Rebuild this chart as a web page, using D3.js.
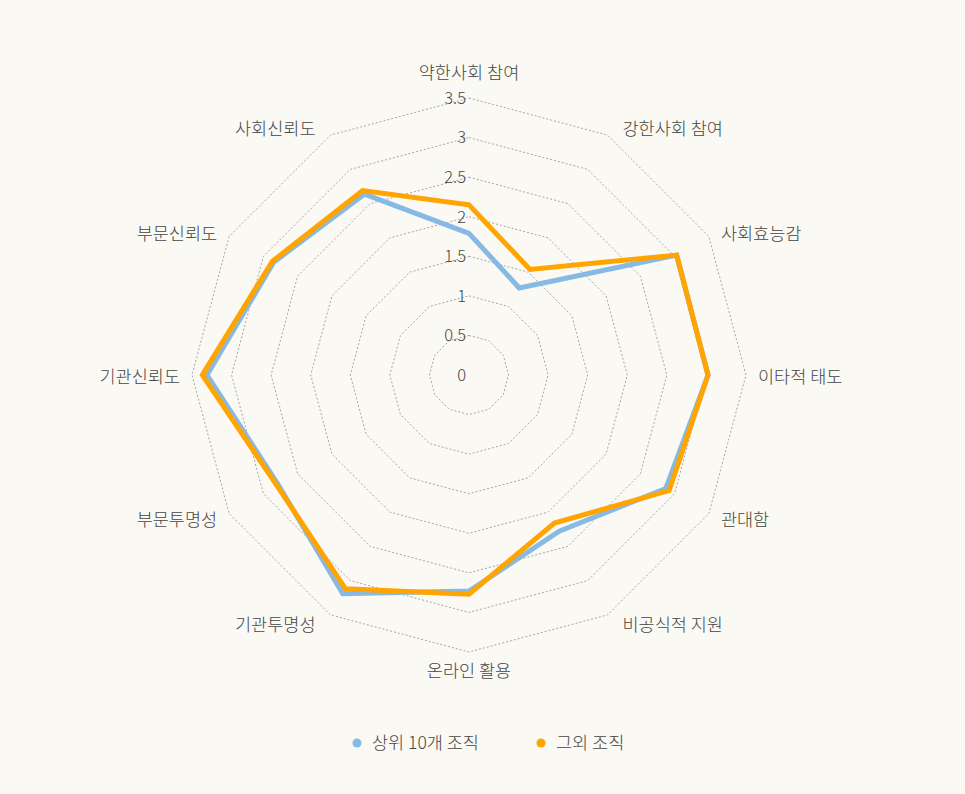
<!DOCTYPE html>
<html>
<head>
<meta charset="utf-8">
<script src="https://cdn.jsdelivr.net/npm/d3@7"></script>
<style>
  html, body { margin: 0; padding: 0; background: #faf9f3; }
  svg text { font-family: "Noto Sans CJK KR", "Noto Sans", sans-serif; fill: #454545; font-weight: 300; }
</style>
</head>
<body>
<div id="chart"></div>
<script>
// axes, clockwise from the top
const axes = ["약한사회 참여", "강한사회 참여", "사회효능감", "이타적 태도", "관대함", "비공식적 지원",
  "온라인 활용", "기관투명성", "부문투명성", "기관신뢰도", "부문신뢰도", "사회신뢰도"];
const seriesNames = ["상위 10개 조직", "그외 조직"];
const top10 = [1.79, 1.27, 3.03, 3.02, 2.87, 2.28, 2.73, 3.19, 2.78, 3.31, 2.85, 2.64];
const others = [2.15, 1.54, 3.03, 3.02, 2.92, 2.16, 2.77, 3.12, 2.8, 3.37, 2.87, 2.69];
const ticks = [0, 0.5, 1, 1.5, 2, 2.5, 3, 3.5];
const colors = ["#86b9e4", "#ffa400"];

const chart = { width: 965, height: 794, cx: 469, cy: 375, radius: 277 };

chart.svg = d3.select("#chart")
    .append("svg")
    .attr("width", chart.width)
    .attr("height", chart.height);

chart.svg.append("rect")
    .attr("width", chart.width)
    .attr("height", chart.height)
    .attr("fill", "#faf9f3");

const g = chart.svg.append("g")
    .attr("transform", `translate(${chart.cx}, ${chart.cy})`);

const r = d3.scaleLinear().domain([0, 3.5]).range([0, chart.radius]);
const angle = d3.scalePoint().domain(d3.range(axes.length)).range([0, 2 * Math.PI * (axes.length - 1) / axes.length]);

const px = (i, v) => r(v) * Math.sin(angle(i));
const py = (i, v) => -r(v) * Math.cos(angle(i));

// dotted grid rings
const ring = d3.line().curve(d3.curveLinearClosed);
g.append("g").selectAll("path")
    .data(ticks.slice(1))
    .join("path")
    .attr("d", t => ring(axes.map((a, i) => [px(i, t), py(i, t)])))
    .attr("fill", "none")
    .attr("stroke", "#a6a6a6")
    .attr("stroke-width", 1)
    .attr("stroke-dasharray", "2,2");

// tick labels on the top axis
g.append("g").selectAll("text")
    .data(ticks)
    .join("text")
    .attr("x", -3)
    .attr("y", t => -r(t))
    .attr("dy", "0.35em")
    .attr("text-anchor", "end")
    .style("font-size", "16.5px")
    .text(t => t);

// axis labels
g.append("g").selectAll("text")
    .data(axes)
    .join("text")
    .attr("x", (a, i) => {
        const s = Math.sin(angle(i));
        const vx = px(i, 3.5);
        if (Math.abs(s) < 0.01) return vx;
        const off = Math.abs(s) < 0.6 ? 15 : 12;
        return vx + (s > 0 ? off : -off);
    })
    .attr("y", (a, i) => {
        const c = Math.cos(angle(i));
        const vy = py(i, 3.5);
        if (c > 0.99) return vy - 25;
        if (c < -0.99) return vy + 19;
        return vy - c * 9 + 2;
    })
    .attr("dy", "0.35em")
    .attr("text-anchor", (a, i) => {
        const s = Math.sin(angle(i));
        return Math.abs(s) < 0.01 ? "middle" : (s > 0 ? "start" : "end");
    })
    .style("font-size", "17.5px")
    .text(a => a);

// series lines
[top10, others].forEach((values, k) => {
    g.append("path")
        .attr("d", ring(values.map((v, i) => [px(i, v), py(i, v)])))
        .attr("fill", "none")
        .attr("stroke", colors[k])
        .attr("stroke-width", 5)
        .attr("stroke-linejoin", "miter");
});

// legend
const legendX = [357, 541];
const legend = chart.svg.append("g").selectAll("g")
    .data(seriesNames)
    .join("g")
    .attr("transform", (d, i) => `translate(${legendX[i]}, 743)`);
legend.append("circle").attr("r", 4.5).attr("fill", (d, i) => colors[i]);
legend.append("text")
    .attr("x", 15)
    .attr("dy", "0.35em")
    .style("font-size", "17.5px")
    .text(d => d);
</script>
</body>
</html>
